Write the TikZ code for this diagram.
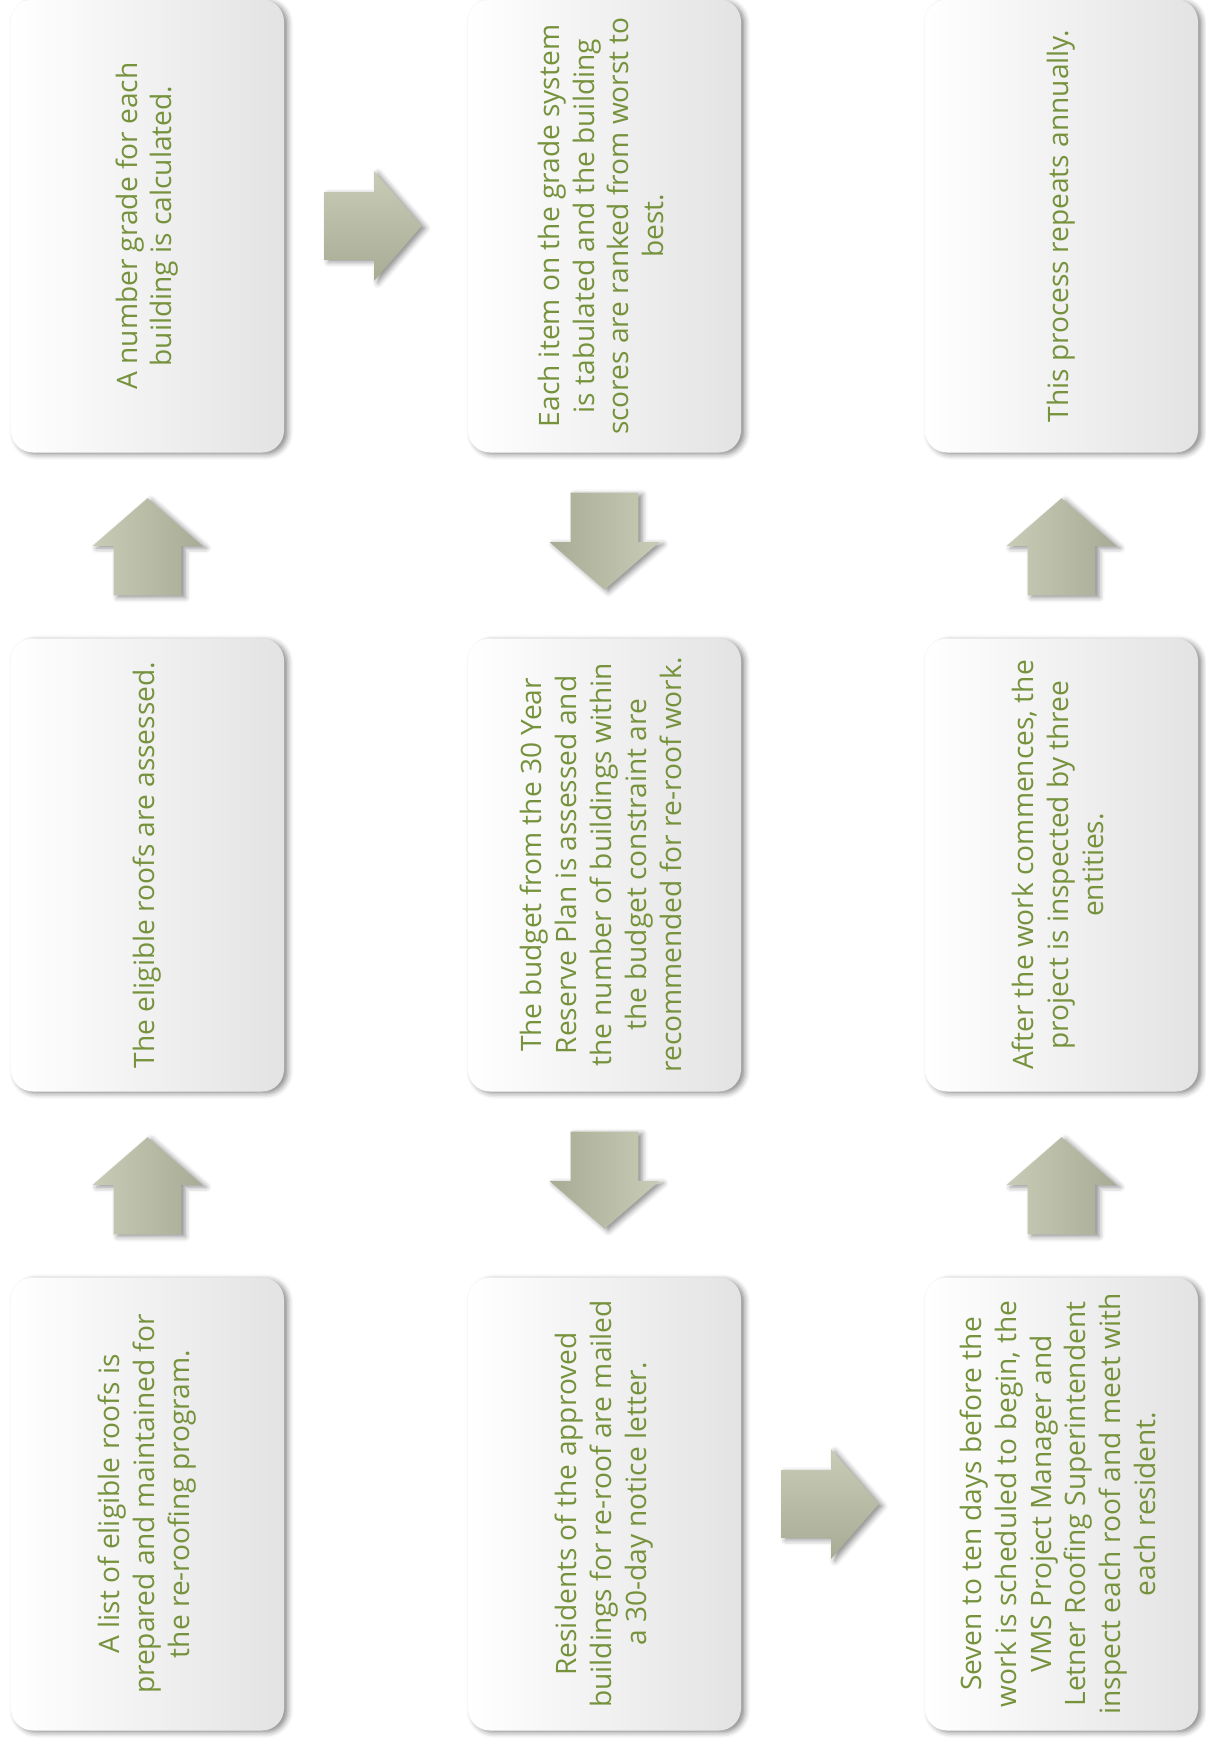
\documentclass[tikz,border=0pt]{standalone}
\usepackage{fontspec}
\setmainfont{Open Sans}
\usepackage{tikz}
\usetikzlibrary{positioning, calc, shapes.arrows, shadows.blur}

\definecolor{textgreen}{HTML}{76923C}
\definecolor{arrowlight}{HTML}{C8CBB5}
\definecolor{arrowdark}{HTML}{A9AC95}

% rotated, centred lines of a step text
\newcommand{\vtext}[1]{\rotatebox{90}{\begin{tabular}{@{}c@{}}#1\end{tabular}}}

\tikzset{
  softshadow/.style={blur shadow={shadow xshift=2.2pt, shadow yshift=-1.2pt,
      shadow blur radius=3pt, shadow opacity=45}},
  blockarrow/.style={single arrow, inner sep=0.67cm, minimum height=1.94cm,
      single arrow head extend=0.42cm,
      single arrow tip angle=98, softshadow},
  % the shifts put the whole arrow, not its shaft, half way
  rightarrow/.style={blockarrow, xshift=-0.35cm,
      top color=arrowlight, bottom color=arrowdark},
  uparrow/.style={blockarrow, shape border rotate=90, yshift=-0.32cm,
      left color=arrowlight, right color=arrowdark},
  downarrow/.style={blockarrow, shape border rotate=270, yshift=0.38cm,
      left color=arrowdark, right color=arrowlight}
}

\begin{document}
\begin{tikzpicture}[
  box/.style={rectangle, rounded corners=0.44cm, inner sep=0pt,
    minimum width=5.46cm, minimum height=9.06cm,
    left color=white, middle color=white, right color=black!11,
    text=textgreen, font=\fontsize{16}{19.9}\selectfont, softshadow}
]

% spacing of the grid
\def\xstep{9.14}  % column to column
\def\ystep{12.78} % row to row

\useasboundingbox (-2.95, 4.52) rectangle (21.15, -30.44);

% Column 1 (bottom to top)
\node (list) [box] at (0, -2*\ystep)
  {\vtext{A list of eligible roofs is \\ prepared and maintained for \\ the re-roofing program.}};

\node (assess) [box] at (0, -\ystep)
  {\vtext{The eligible roofs are assessed.}};

\node (grade) [box] at (0, 0)
  {\vtext{A number grade for each \\ building is calculated.}};

% Column 2 (top to bottom)
\node (tabulate) [box] at (\xstep, 0)
  {\vtext{Each item on the grade system \\ is tabulated and the building \\ scores are ranked from worst to \\ best.}};

\node (budget) [box] at (\xstep, -\ystep)
  {\vtext{The budget from the 30 Year \\ Reserve Plan is assessed and \\ the number of buildings within \\ the budget constraint are \\ recommended for re-roof work.}};

\node (notice) [box] at (\xstep, -2*\ystep)
  {\vtext{Residents of the approved \\ buildings for re-roof are mailed \\ a 30-day notice letter.}};

% Column 3 (bottom to top)
\node (meet) [box] at (2*\xstep, -2*\ystep)
  {\vtext{Seven to ten days before the \\ work is scheduled to begin, the \\ VMS Project Manager and \\ Letner Roofing Superintendent \\ inspect each roof and meet with \\ each resident.}};

\node (inspect) [box] at (2*\xstep, -\ystep)
  {\vtext{After the work commences, the \\ project is inspected by three \\ entities.}};

\node (annual) [box] at (2*\xstep, 0)
  {\vtext{This process repeats annually.}};

% Block arrows half way between the boxes
\node (a1) [uparrow] at ($(list)!0.5!(assess)$) {};
\node (a2) [uparrow] at ($(assess)!0.5!(grade)$) {};
\node (a3) [rightarrow] at ($(grade)!0.5!(tabulate)$) {};
\node (a4) [downarrow] at ($(tabulate)!0.5!(budget)$) {};
\node (a5) [downarrow] at ($(budget)!0.5!(notice)$) {};
\node (a6) [rightarrow] at ($(notice)!0.5!(meet)$) {};
\node (a7) [uparrow] at ($(meet)!0.5!(inspect)$) {};
\node (a8) [uparrow] at ($(inspect)!0.5!(annual)$) {};

\end{tikzpicture}
\end{document}
